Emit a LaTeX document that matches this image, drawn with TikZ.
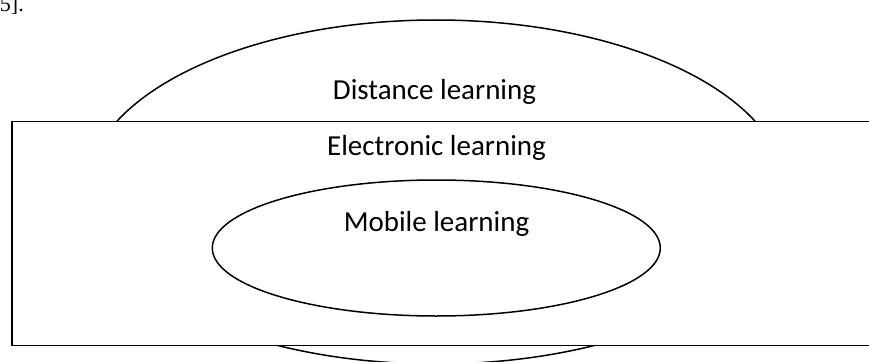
\documentclass[tikz,border=0pt]{standalone}
\usepackage{fontspec}
\setmainfont{Carlito}
\newfontfamily\docfont{Liberation Serif}
\usetikzlibrary{shapes.geometric, positioning}

\begin{document}
\begin{tikzpicture}[x=1pt, y=-1pt,
    area/.style={draw, line width=1.5pt, fill=white, inner sep=0pt, outer sep=0pt},
    tag/.style={font=\fontsize{29}{34}\selectfont, inner sep=0pt, anchor=base}]
    \useasboundingbox (0,0) rectangle (869,361);
    % cut-off text of the page above
    \node[font=\docfont\fontsize{22}{26}\selectfont, inner sep=0pt, anchor=base east] (cite) at (24,11.5) {[5].};

    % the three regions, outermost first
    \node[area, ellipse, minimum width=700pt, minimum height=344pt] (distance) at (436,192) {};
    \node[area, rectangle, minimum width=868pt, minimum height=224pt] (electronic) at (446,233.7) {};
    \node[area, ellipse, minimum width=448pt, minimum height=136pt] (mobile) at (436.3,248) {};

    \node[tag] (distancetxt) at (434.5,99.5) {Distance learning};
    \node[tag] (electronictxt) at (436.5,155) {Electronic learning};
    \node[tag] (mobiletxt) at (436.5,231.5) {Mobile learning};
\end{tikzpicture}
\end{document}
